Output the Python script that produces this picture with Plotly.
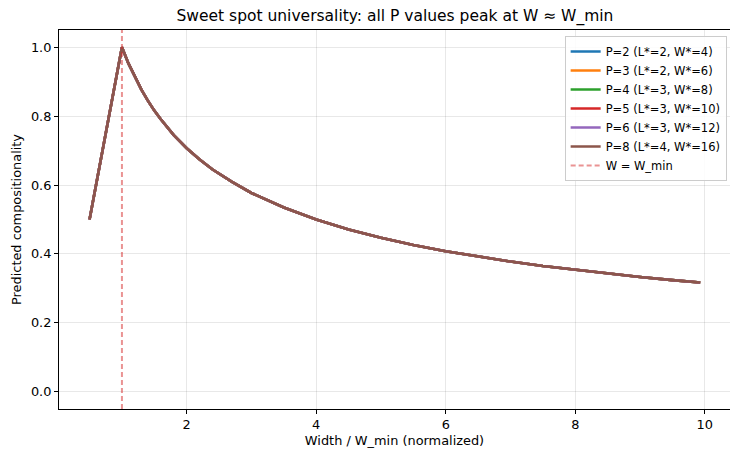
import plotly.graph_objects as go

# Data (all P values share the same normalized curve)
width_norm = [0.5, 1.0, 1.1, 1.2, 1.3, 1.4, 1.5, 1.6, 1.8, 2.0, 2.2, 2.4, 2.7, 3.0,
              3.5, 4.0, 4.5, 5.0, 5.5, 6.0, 6.5, 7.0, 7.5, 8.0, 8.5, 9.0, 9.5, 9.93]
compositionality = [0.5, 1.0, 0.953, 0.913, 0.877, 0.845, 0.816, 0.791, 0.745, 0.707,
                    0.674, 0.645, 0.609, 0.577, 0.535, 0.5, 0.471, 0.447, 0.426,
                    0.408, 0.392, 0.378, 0.365, 0.354, 0.343, 0.333, 0.324, 0.317]
series_labels = ["P=2 (L*=2, W*=4)", "P=3 (L*=2, W*=6)", "P=4 (L*=3, W*=8)",
                 "P=5 (L*=3, W*=10)", "P=6 (L*=3, W*=12)", "P=8 (L*=4, W*=16)"]
series_colors = ["#1f77b4", "#ff7f0e", "#2ca02c", "#d62728", "#9467bd", "#8c564b"]
w_min = 1.0
y_range = [-0.05, 1.05]
x_range = [0.028, 10.39]
x_ticks = [2, 4, 6, 8, 10]
y_ticks = [0.0, 0.2, 0.4, 0.6, 0.8, 1.0]

fig = go.Figure()
for label, color in zip(series_labels, series_colors):
    fig.add_trace(go.Scatter(x=width_norm, y=compositionality, mode="lines",
                             name=label, line=dict(color=color, width=2.6)))
fig.add_trace(go.Scatter(x=[w_min, w_min], y=y_range, mode="lines", name="W = W_min",
                         line=dict(color="rgba(214,39,40,0.5)", width=2, dash="5px,3px")))

font = "DejaVu Sans"
axis_common = dict(showline=True, linecolor="black", linewidth=1, mirror=True,
                   ticks="outside", ticklen=4, tickcolor="black",
                   showgrid=True, gridcolor="rgba(0,0,0,0.09)", gridwidth=1,
                   zeroline=False, tickfont=dict(family=font, size=12.9, color="black"))
fig.update_layout(
    width=730, height=450,
    margin=dict(l=59, r=0, t=30, b=41),
    plot_bgcolor="white", paper_bgcolor="white",
    title=dict(text="Sweet spot universality: all P values peak at W \u2248 W_min",
               x=0.541, xanchor="center", y=0.966, yanchor="middle",
               font=dict(family=font, size=15.5, color="black")),
    xaxis=dict(range=x_range, tickvals=x_ticks, ticktext=[str(v) for v in x_ticks],
               title=dict(text="Width / W_min (normalized)", standoff=4,
                          font=dict(family=font, size=12.9, color="black")),
               **axis_common),
    yaxis=dict(range=y_range, tickvals=y_ticks, ticktext=[f"{v:.1f}" for v in y_ticks],
               title=dict(text="Predicted compositionality", standoff=6,
                          font=dict(family=font, size=12.9, color="black")),
               **axis_common),
    legend=dict(x=0.995, y=0.984, xanchor="right", yanchor="top",
                bgcolor="rgba(255,255,255,0.85)", bordercolor="#cccccc", borderwidth=1,
                font=dict(family=font, size=11.5, color="black"),
                tracegroupgap=0, itemwidth=30),
    showlegend=True,
)
fig.write_html("out.html")
